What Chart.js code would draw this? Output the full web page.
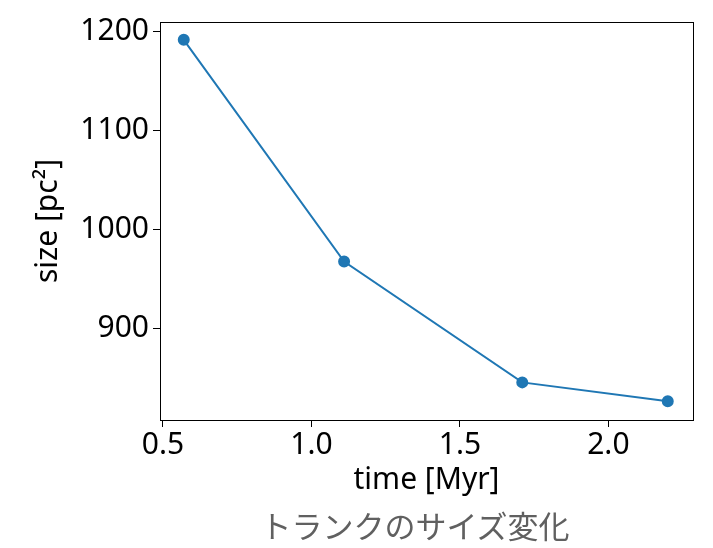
<!DOCTYPE html>
<html>
<head>
<meta charset="utf-8">
<script src="https://cdn.jsdelivr.net/npm/chart.js@4"></script>
<style>
  body { margin: 0; background: #fff; }
  #wrap { position: relative; width: 713px; height: 548px; }
  #caption {
    position: absolute; left: 0; width: 830px; top: 505px;
    text-align: center; font-family: "Noto Sans CJK JP", sans-serif;
    font-size: 31px; line-height: 40px; color: #606060;
  }
</style>
</head>
<body>
<div id="wrap">
  <canvas id="sizeChart" width="713" height="548"></canvas>
  <div id="caption">トランクのサイズ変化</div>
</div>
<script>
// time [Myr] and size [pc^2]
const times = [0.57, 1.11, 1.71, 2.2];
const sizes = [1192, 968, 846, 827];
const xTicks = [0.5, 1.0, 1.5, 2.0];
const yTicks = [900, 1000, 1100, 1200];

const frameBox = {
  id: "frameBox",
  afterDraw(chart) {
    const { ctx, chartArea } = chart;
    ctx.save();
    ctx.strokeStyle = "#000";
    ctx.lineWidth = 1;
    ctx.strokeRect(chartArea.left + 0.5, chartArea.top + 0.5,
      chartArea.right - chartArea.left, chartArea.bottom - chartArea.top);
    ctx.restore();
  },
};

const textFont = { family: "Noto Sans", size: 30, lineHeight: 1.2 };

new Chart(document.getElementById("sizeChart"), {
  type: "line",
  data: {
    datasets: [
      {
        data: times.map((t, i) => ({ x: t, y: sizes[i] })),
        borderColor: "#1f77b4",
        backgroundColor: "#1f77b4",
        borderWidth: 2,
        pointRadius: 5,
        pointHoverRadius: 5,
        tension: 0,
      },
    ],
  },
  options: {
    responsive: false,
    animation: false,
    layout: { padding: { left: 28, right: 20, top: 22, bottom: 50 } },
    plugins: { legend: { display: false }, tooltip: { enabled: false } },
    scales: {
      x: {
        type: "linear",
        min: 0.49,
        max: 2.285,
        afterBuildTicks: (scale) => {
          scale.ticks = xTicks.map((v) => ({ value: v }));
        },
        afterFit: (scale) => {
          scale.height = 78;
        },
        ticks: {
          color: "#000",
          font: textFont,
          padding: 0,
          maxRotation: 0,
          callback: (v) => Number(v).toFixed(1),
        },
        grid: {
          drawOnChartArea: false,
          drawTicks: true,
          tickLength: 7,
          color: "#000",
        },
        border: { color: "#000" },
        title: {
          display: true,
          text: "time [Myr]",
          color: "#000",
          font: textFont,
          padding: { top: 0, bottom: 0 },
        },
      },
      y: {
        type: "linear",
        min: 808,
        max: 1210,
        afterBuildTicks: (scale) => {
          scale.ticks = yTicks.map((v) => ({ value: v }));
        },
        afterFit: (scale) => {
          scale.width = 132;
        },
        ticks: {
          color: "#000",
          font: textFont,
          padding: 4,
          callback: (v) => String(v),
        },
        grid: {
          drawOnChartArea: false,
          drawTicks: true,
          tickLength: 7,
          color: "#000",
        },
        border: { color: "#000" },
        title: {
          display: true,
          text: "size [pc²]",
          color: "#000",
          font: textFont,
          padding: { top: 2, bottom: 0 },
        },
      },
    },
  },
  plugins: [frameBox],
});
</script>
</body>
</html>
